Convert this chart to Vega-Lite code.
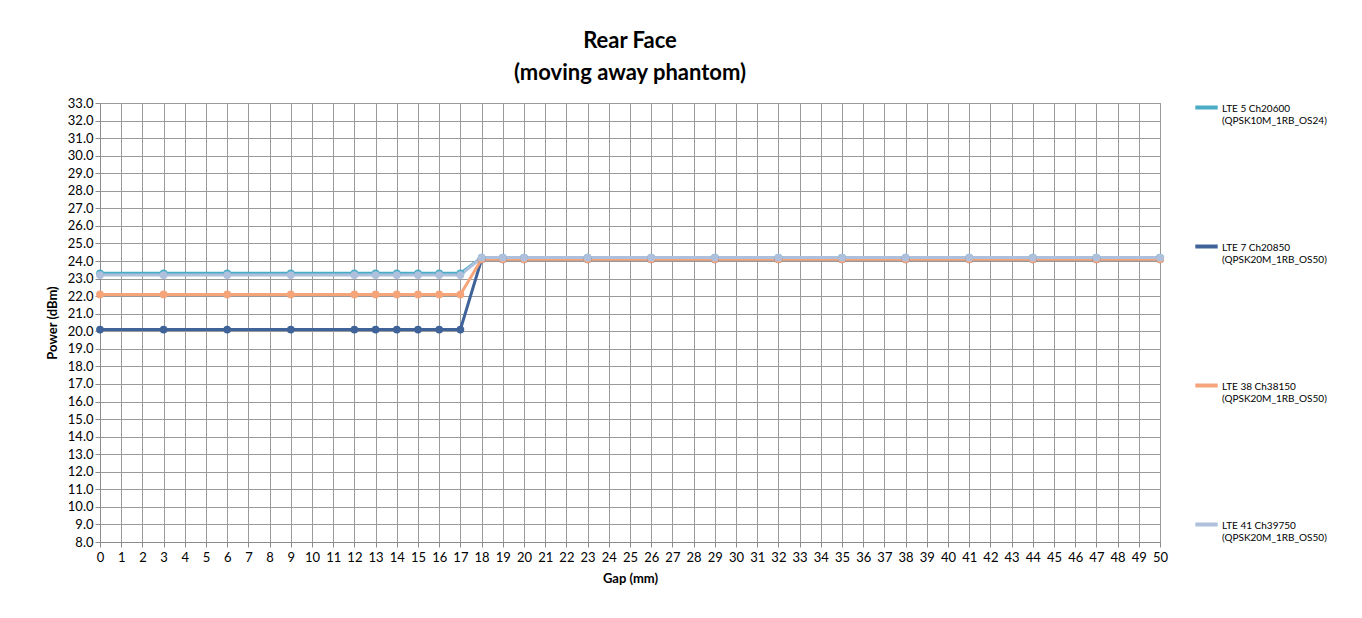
{
  "$schema": "https://vega.github.io/schema/vega-lite/v6.json",
  "autosize": "none",
  "width": 1060,
  "height": 439,
  "padding": {"left": 100, "top": 103, "right": 202, "bottom": 76},
  "background": "white",
  "title": {
    "text": ["Rear Face", "(moving away phantom)"],
    "font": "Lato",
    "fontSize": 22,
    "fontWeight": "bold",
    "color": "#000000",
    "anchor": "middle",
    "offset": 12,
    "lineHeight": 32
  },
  "config": {
    "font": "Lato",
    "view": {"stroke": "#8c8c8c", "strokeWidth": 1}
  },
  "data": {
    "values": [
      {"s":"LTE 5 Ch20600 (QPSK10M_1RB_OS24)","x":0,"y":23.3},
      {"s":"LTE 5 Ch20600 (QPSK10M_1RB_OS24)","x":3,"y":23.3},
      {"s":"LTE 5 Ch20600 (QPSK10M_1RB_OS24)","x":6,"y":23.3},
      {"s":"LTE 5 Ch20600 (QPSK10M_1RB_OS24)","x":9,"y":23.3},
      {"s":"LTE 5 Ch20600 (QPSK10M_1RB_OS24)","x":12,"y":23.3},
      {"s":"LTE 5 Ch20600 (QPSK10M_1RB_OS24)","x":13,"y":23.3},
      {"s":"LTE 5 Ch20600 (QPSK10M_1RB_OS24)","x":14,"y":23.3},
      {"s":"LTE 5 Ch20600 (QPSK10M_1RB_OS24)","x":15,"y":23.3},
      {"s":"LTE 5 Ch20600 (QPSK10M_1RB_OS24)","x":16,"y":23.3},
      {"s":"LTE 5 Ch20600 (QPSK10M_1RB_OS24)","x":17,"y":23.3},
      {"s":"LTE 5 Ch20600 (QPSK10M_1RB_OS24)","x":18,"y":24.2},
      {"s":"LTE 5 Ch20600 (QPSK10M_1RB_OS24)","x":19,"y":24.2},
      {"s":"LTE 5 Ch20600 (QPSK10M_1RB_OS24)","x":20,"y":24.2},
      {"s":"LTE 5 Ch20600 (QPSK10M_1RB_OS24)","x":23,"y":24.2},
      {"s":"LTE 5 Ch20600 (QPSK10M_1RB_OS24)","x":26,"y":24.2},
      {"s":"LTE 5 Ch20600 (QPSK10M_1RB_OS24)","x":29,"y":24.2},
      {"s":"LTE 5 Ch20600 (QPSK10M_1RB_OS24)","x":32,"y":24.2},
      {"s":"LTE 5 Ch20600 (QPSK10M_1RB_OS24)","x":35,"y":24.2},
      {"s":"LTE 5 Ch20600 (QPSK10M_1RB_OS24)","x":38,"y":24.2},
      {"s":"LTE 5 Ch20600 (QPSK10M_1RB_OS24)","x":41,"y":24.2},
      {"s":"LTE 5 Ch20600 (QPSK10M_1RB_OS24)","x":44,"y":24.2},
      {"s":"LTE 5 Ch20600 (QPSK10M_1RB_OS24)","x":47,"y":24.2},
      {"s":"LTE 5 Ch20600 (QPSK10M_1RB_OS24)","x":50,"y":24.2},
      {"s":"LTE 7 Ch20850 (QPSK20M_1RB_OS50)","x":0,"y":20.1},
      {"s":"LTE 7 Ch20850 (QPSK20M_1RB_OS50)","x":3,"y":20.1},
      {"s":"LTE 7 Ch20850 (QPSK20M_1RB_OS50)","x":6,"y":20.1},
      {"s":"LTE 7 Ch20850 (QPSK20M_1RB_OS50)","x":9,"y":20.1},
      {"s":"LTE 7 Ch20850 (QPSK20M_1RB_OS50)","x":12,"y":20.1},
      {"s":"LTE 7 Ch20850 (QPSK20M_1RB_OS50)","x":13,"y":20.1},
      {"s":"LTE 7 Ch20850 (QPSK20M_1RB_OS50)","x":14,"y":20.1},
      {"s":"LTE 7 Ch20850 (QPSK20M_1RB_OS50)","x":15,"y":20.1},
      {"s":"LTE 7 Ch20850 (QPSK20M_1RB_OS50)","x":16,"y":20.1},
      {"s":"LTE 7 Ch20850 (QPSK20M_1RB_OS50)","x":17,"y":20.1},
      {"s":"LTE 7 Ch20850 (QPSK20M_1RB_OS50)","x":18,"y":24.1},
      {"s":"LTE 7 Ch20850 (QPSK20M_1RB_OS50)","x":19,"y":24.1},
      {"s":"LTE 7 Ch20850 (QPSK20M_1RB_OS50)","x":20,"y":24.1},
      {"s":"LTE 7 Ch20850 (QPSK20M_1RB_OS50)","x":23,"y":24.1},
      {"s":"LTE 7 Ch20850 (QPSK20M_1RB_OS50)","x":26,"y":24.1},
      {"s":"LTE 7 Ch20850 (QPSK20M_1RB_OS50)","x":29,"y":24.1},
      {"s":"LTE 7 Ch20850 (QPSK20M_1RB_OS50)","x":32,"y":24.1},
      {"s":"LTE 7 Ch20850 (QPSK20M_1RB_OS50)","x":35,"y":24.1},
      {"s":"LTE 7 Ch20850 (QPSK20M_1RB_OS50)","x":38,"y":24.1},
      {"s":"LTE 7 Ch20850 (QPSK20M_1RB_OS50)","x":41,"y":24.1},
      {"s":"LTE 7 Ch20850 (QPSK20M_1RB_OS50)","x":44,"y":24.1},
      {"s":"LTE 7 Ch20850 (QPSK20M_1RB_OS50)","x":47,"y":24.1},
      {"s":"LTE 7 Ch20850 (QPSK20M_1RB_OS50)","x":50,"y":24.1},
      {"s":"LTE 38 Ch38150 (QPSK20M_1RB_OS50)","x":0,"y":22.1},
      {"s":"LTE 38 Ch38150 (QPSK20M_1RB_OS50)","x":3,"y":22.1},
      {"s":"LTE 38 Ch38150 (QPSK20M_1RB_OS50)","x":6,"y":22.1},
      {"s":"LTE 38 Ch38150 (QPSK20M_1RB_OS50)","x":9,"y":22.1},
      {"s":"LTE 38 Ch38150 (QPSK20M_1RB_OS50)","x":12,"y":22.1},
      {"s":"LTE 38 Ch38150 (QPSK20M_1RB_OS50)","x":13,"y":22.1},
      {"s":"LTE 38 Ch38150 (QPSK20M_1RB_OS50)","x":14,"y":22.1},
      {"s":"LTE 38 Ch38150 (QPSK20M_1RB_OS50)","x":15,"y":22.1},
      {"s":"LTE 38 Ch38150 (QPSK20M_1RB_OS50)","x":16,"y":22.1},
      {"s":"LTE 38 Ch38150 (QPSK20M_1RB_OS50)","x":17,"y":22.1},
      {"s":"LTE 38 Ch38150 (QPSK20M_1RB_OS50)","x":18,"y":24.1},
      {"s":"LTE 38 Ch38150 (QPSK20M_1RB_OS50)","x":19,"y":24.1},
      {"s":"LTE 38 Ch38150 (QPSK20M_1RB_OS50)","x":20,"y":24.1},
      {"s":"LTE 38 Ch38150 (QPSK20M_1RB_OS50)","x":23,"y":24.1},
      {"s":"LTE 38 Ch38150 (QPSK20M_1RB_OS50)","x":26,"y":24.1},
      {"s":"LTE 38 Ch38150 (QPSK20M_1RB_OS50)","x":29,"y":24.1},
      {"s":"LTE 38 Ch38150 (QPSK20M_1RB_OS50)","x":32,"y":24.1},
      {"s":"LTE 38 Ch38150 (QPSK20M_1RB_OS50)","x":35,"y":24.1},
      {"s":"LTE 38 Ch38150 (QPSK20M_1RB_OS50)","x":38,"y":24.1},
      {"s":"LTE 38 Ch38150 (QPSK20M_1RB_OS50)","x":41,"y":24.1},
      {"s":"LTE 38 Ch38150 (QPSK20M_1RB_OS50)","x":44,"y":24.1},
      {"s":"LTE 38 Ch38150 (QPSK20M_1RB_OS50)","x":47,"y":24.1},
      {"s":"LTE 38 Ch38150 (QPSK20M_1RB_OS50)","x":50,"y":24.1},
      {"s":"LTE 41 Ch39750 (QPSK20M_1RB_OS50)","x":0,"y":23.2},
      {"s":"LTE 41 Ch39750 (QPSK20M_1RB_OS50)","x":3,"y":23.2},
      {"s":"LTE 41 Ch39750 (QPSK20M_1RB_OS50)","x":6,"y":23.2},
      {"s":"LTE 41 Ch39750 (QPSK20M_1RB_OS50)","x":9,"y":23.2},
      {"s":"LTE 41 Ch39750 (QPSK20M_1RB_OS50)","x":12,"y":23.2},
      {"s":"LTE 41 Ch39750 (QPSK20M_1RB_OS50)","x":13,"y":23.2},
      {"s":"LTE 41 Ch39750 (QPSK20M_1RB_OS50)","x":14,"y":23.2},
      {"s":"LTE 41 Ch39750 (QPSK20M_1RB_OS50)","x":15,"y":23.2},
      {"s":"LTE 41 Ch39750 (QPSK20M_1RB_OS50)","x":16,"y":23.2},
      {"s":"LTE 41 Ch39750 (QPSK20M_1RB_OS50)","x":17,"y":23.2},
      {"s":"LTE 41 Ch39750 (QPSK20M_1RB_OS50)","x":18,"y":24.2},
      {"s":"LTE 41 Ch39750 (QPSK20M_1RB_OS50)","x":19,"y":24.2},
      {"s":"LTE 41 Ch39750 (QPSK20M_1RB_OS50)","x":20,"y":24.2},
      {"s":"LTE 41 Ch39750 (QPSK20M_1RB_OS50)","x":23,"y":24.2},
      {"s":"LTE 41 Ch39750 (QPSK20M_1RB_OS50)","x":26,"y":24.2},
      {"s":"LTE 41 Ch39750 (QPSK20M_1RB_OS50)","x":29,"y":24.2},
      {"s":"LTE 41 Ch39750 (QPSK20M_1RB_OS50)","x":32,"y":24.2},
      {"s":"LTE 41 Ch39750 (QPSK20M_1RB_OS50)","x":35,"y":24.2},
      {"s":"LTE 41 Ch39750 (QPSK20M_1RB_OS50)","x":38,"y":24.2},
      {"s":"LTE 41 Ch39750 (QPSK20M_1RB_OS50)","x":41,"y":24.2},
      {"s":"LTE 41 Ch39750 (QPSK20M_1RB_OS50)","x":44,"y":24.2},
      {"s":"LTE 41 Ch39750 (QPSK20M_1RB_OS50)","x":47,"y":24.2},
      {"s":"LTE 41 Ch39750 (QPSK20M_1RB_OS50)","x":50,"y":24.2}
    ]
  },
  "mark": {
    "type": "line",
    "strokeWidth": 3,
    "point": {"filled": true, "size": 60}
  },
  "encoding": {
    "x": {
      "field": "x",
      "type": "quantitative",
      "title": "Gap (mm)",
      "scale": {"domain": [0, 50], "nice": false},
      "axis": {
        "values": [0,1,2,3,4,5,6,7,8,9,10,11,12,13,14,15,16,17,18,19,20,21,22,23,24,25,26,27,28,29,30,31,32,33,34,35,36,37,38,39,40,41,42,43,44,45,46,47,48,49,50],
        "grid": true,
        "gridColor": "#9a9a9a",
        "gridOpacity": 1,
        "domain": true,
        "domainColor": "#8c8c8c",
        "tickColor": "#8c8c8c",
        "tickSize": 5,
        "labelFontSize": 13,
        "labelColor": "#000000",
        "labelPadding": 4,
        "labelFlush": false,
        "titleFontSize": 13,
        "titleFontWeight": "bold",
        "titleColor": "#000000",
        "titlePadding": 8
      }
    },
    "y": {
      "field": "y",
      "type": "quantitative",
      "title": "Power (dBm)",
      "scale": {"domain": [8, 33], "nice": false, "zero": false},
      "axis": {
        "values": [8,9,10,11,12,13,14,15,16,17,18,19,20,21,22,23,24,25,26,27,28,29,30,31,32,33],
        "format": ".1f",
        "grid": true,
        "gridColor": "#9a9a9a",
        "gridOpacity": 1,
        "domainColor": "#8c8c8c",
        "tickColor": "#8c8c8c",
        "tickSize": 5,
        "labelFontSize": 13,
        "labelColor": "#000000",
        "labelFlush": false,
        "titleFontSize": 13,
        "titleFontWeight": "bold",
        "titleColor": "#000000",
        "titlePadding": 8
      }
    },
    "color": {
      "field": "s",
      "type": "nominal",
      "sort": ["LTE 5 Ch20600 (QPSK10M_1RB_OS24)", "LTE 7 Ch20850 (QPSK20M_1RB_OS50)", "LTE 38 Ch38150 (QPSK20M_1RB_OS50)", "LTE 41 Ch39750 (QPSK20M_1RB_OS50)"],
      "scale": {
        "domain": ["LTE 5 Ch20600 (QPSK10M_1RB_OS24)", "LTE 7 Ch20850 (QPSK20M_1RB_OS50)", "LTE 38 Ch38150 (QPSK20M_1RB_OS50)", "LTE 41 Ch39750 (QPSK20M_1RB_OS50)"],
        "range": ["#4BACC6", "#3F6399", "#F6A57A", "#AFC0DC"]
      },
      "legend": {
        "title": null,
        "orient": "right",
        "offset": 36,
        "padding": -9,
        "symbolType": "stroke",
        "symbolStrokeWidth": 4,
        "symbolSize": 500,
        "labelFontSize": 10,
        "labelColor": "#000000",
        "labelExpr": "[slice(datum.label, 0, indexof(datum.label, ' (')), slice(datum.label, indexof(datum.label, ' (') + 1)]",
        "labelLimit": 200,
        "rowPadding": 107,
        "labelBaseline": "alphabetic",
        "labelOffset": 2,
        "encode": {"labels": {"update": {"dy": {"value": 4}}}}
      }
    },
    "order": {"field": "x", "type": "quantitative"}
  }
}
